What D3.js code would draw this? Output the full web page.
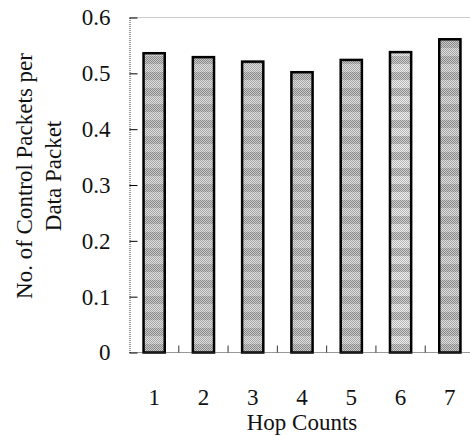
<!DOCTYPE html>
<html>
<head>
<meta charset="utf-8">
<script src="https://cdn.jsdelivr.net/npm/d3@7"></script>
<style>
  html, body { margin: 0; padding: 0; background: #fff; }
  svg { display: block; }
</style>
</head>
<body>
<script>
// Control overhead per delivered data packet, by route length
const hopCounts = ["1", "2", "3", "4", "5", "6", "7"];
const controlPerData = [0.536, 0.529, 0.521, 0.502, 0.524, 0.538, 0.561];
const yTicks = [0, 0.1, 0.2, 0.3, 0.4, 0.5, 0.6];
const yTickLabels = ["0", "0.1", "0.2", "0.3", "0.4", "0.5", "0.6"];
const xTitle = "Hop Counts";
const yTitleLines = ["No. of Control Packets per", "Data Packet"];

const W = 470, H = 436;
const margin = { left: 129.5, top: 17.5, right: -4.5, bottom: 83.5 };
const FONT = "'Liberation Serif', 'Times New Roman', serif";

const svg = d3.select("body").append("svg")
  .attr("width", W).attr("height", H);

// Dithered grey fills with soft horizontal light/dark bands
const defs = svg.append("defs");
function bandPattern(id, rows) {
  const p = defs.append("pattern")
    .attr("id", id).attr("patternUnits", "userSpaceOnUse")
    .attr("width", 2).attr("height", rows.length * 2);
  rows.forEach((c, i) => {
    p.append("rect").attr("x", 0).attr("y", i * 2).attr("width", 2).attr("height", 2).attr("fill", c[0]);
    p.append("rect").attr("x", 0).attr("y", i * 2).attr("width", 1).attr("height", 1).attr("fill", c[1]);
    p.append("rect").attr("x", 1).attr("y", i * 2 + 1).attr("width", 1).attr("height", 1).attr("fill", c[1]);
  });
}
const L = ["#dedede", "#a6a6a6"], D = ["#c8c8c8", "#8a8a8a"];
const L2 = ["#ebebeb", "#b8b8b8"], D2 = ["#cfcfcf", "#8e8e8e"];
bandPattern("fillA", [L, L, L, L, D, D, D, D]);
bandPattern("fillB", [L2, L2, L2, L2, D2, D2, D2, D2]);

const x = d3.scaleBand()
  .domain(hopCounts)
  .range([margin.left, W - margin.right])
  .paddingInner(0.57)
  .paddingOuter(0.285);

const y = d3.scaleLinear()
  .domain([0, 0.6])
  .range([H - margin.bottom, margin.top]);

const x0 = margin.left, x1 = W - margin.right;
const yBase = y(0), yTop = y(0.6);

// Top frame edge
svg.append("line")
  .attr("x1", x0).attr("x2", x1).attr("y1", yTop).attr("y2", yTop)
  .attr("stroke", "#9a9a9a").attr("stroke-width", 1).attr("stroke-dasharray", "1,1");

// Bars
const fills = ["fillA", "fillA", "fillA", "fillA", "fillA", "fillB", "fillA"];
svg.append("g").selectAll("rect")
  .data(controlPerData)
  .join("rect")
  .attr("x", (d, i) => x(hopCounts[i]))
  .attr("y", d => y(d))
  .attr("width", x.bandwidth())
  .attr("height", d => yBase - y(d))
  .attr("fill", (d, i) => `url(#${fills[i]})`)
  .attr("stroke", "#000")
  .attr("stroke-width", 2.5);

// Y axis with inward ticks
const yAxis = d3.axisLeft(y)
  .tickValues(yTicks)
  .tickFormat((d, i) => yTickLabels[i])
  .tickSizeInner(-8)
  .tickSizeOuter(0)
  .tickPadding(19);
const gy = svg.append("g").attr("transform", `translate(${x0},0)`).call(yAxis);
gy.attr("font-family", null).attr("font-size", null);
gy.select(".domain").attr("stroke", "#333").attr("stroke-dasharray", "1,1");
gy.selectAll(".tick line").attr("stroke", "#000");
gy.selectAll(".tick text")
  .style("font-family", FONT)
  .style("font-size", "23px")
  .attr("fill", "#111");

// X axis baseline
svg.append("line")
  .attr("x1", x0).attr("x2", x1).attr("y1", yBase).attr("y2", yBase)
  .attr("stroke", "#333").attr("stroke-width", 1).attr("stroke-dasharray", "1,1");

// Category separators pointing up from the baseline
const step = x.step();
svg.append("g").selectAll("line")
  .data(hopCounts.slice(0, -1))
  .join("line")
  .attr("x1", d => x(d) + x.bandwidth() + (step - x.bandwidth()) / 2)
  .attr("x2", d => x(d) + x.bandwidth() + (step - x.bandwidth()) / 2)
  .attr("y1", yBase).attr("y2", yBase - 7)
  .attr("stroke", "#333").attr("stroke-width", 1);

// Category labels
svg.append("g").selectAll("text")
  .data(hopCounts)
  .join("text")
  .attr("x", d => x(d) + x.bandwidth() / 2)
  .attr("y", yBase + 52)
  .attr("text-anchor", "middle")
  .style("font-family", FONT)
  .style("font-size", "23px")
  .attr("fill", "#111")
  .text(d => d);

// Axis titles
svg.append("text")
  .attr("x", 302)
  .attr("y", 430)
  .attr("text-anchor", "middle")
  .style("font-family", FONT)
  .style("font-size", "23px")
  .attr("fill", "#111")
  .text(xTitle);

const yt = svg.append("text")
  .attr("transform", "translate(0,176) rotate(-90)")
  .attr("text-anchor", "middle")
  .style("font-family", FONT)
  .style("font-size", "23px")
  .attr("fill", "#111");
yt.append("tspan").attr("x", 0).attr("y", 32).text(yTitleLines[0]);
yt.append("tspan").attr("x", 0).attr("y", 61).text(yTitleLines[1]);
</script>
</body>
</html>
